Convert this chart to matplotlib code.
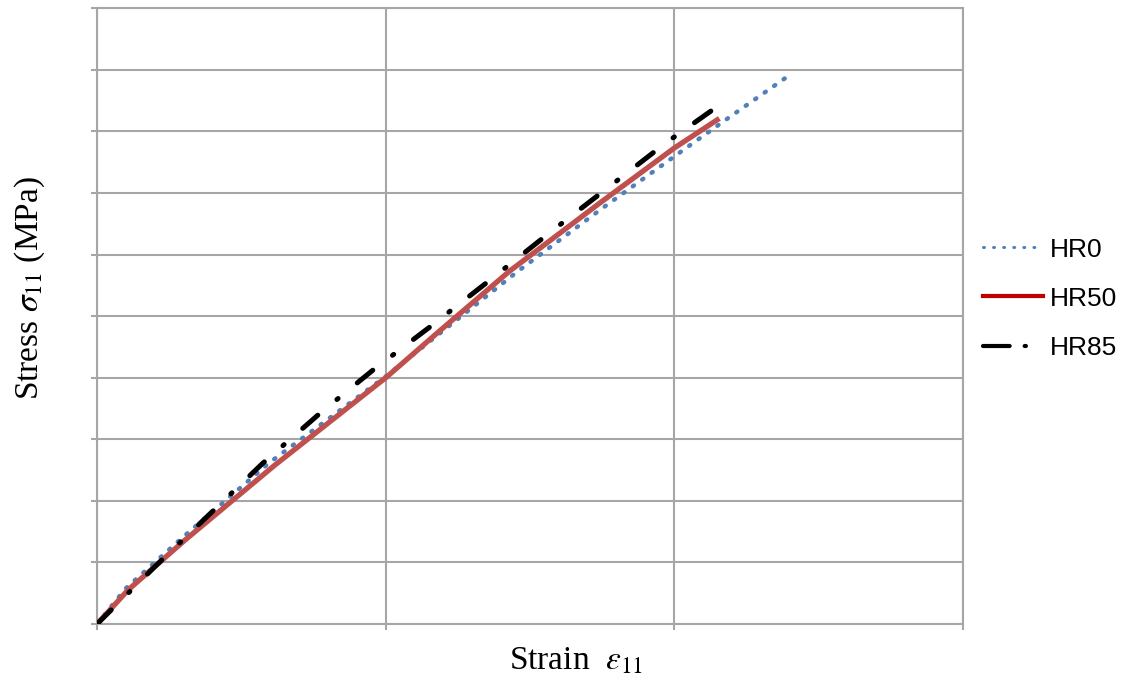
import matplotlib
matplotlib.use("Agg")
import matplotlib.pyplot as plt
from matplotlib.lines import Line2D

# strain / stress in grid units (axes carry no numeric labels)
hr0_strain = [0, 0.10, 0.30, 0.60, 1.00, 1.45, 1.75, 2.017, 2.20, 2.398]
hr0_stress = [0, 0.58, 1.42, 2.63, 4.02, 5.70, 6.75, 7.65, 8.26, 8.91]

hr50_strain = [0, 0.107, 0.304, 0.616, 1.003, 1.187, 1.429, 1.74, 2.00, 2.156]
hr50_stress = [0, 0.55, 1.36, 2.58, 4.01, 4.76, 5.73, 6.83, 7.73, 8.21]

hr85_strain = [0, 0.20, 0.574, 0.772, 0.955, 1.152, 1.36, 1.567, 1.97, 2.166]
hr85_stress = [0, 0.93, 2.61, 3.42, 4.12, 4.82, 5.58, 6.35, 7.81, 8.46]

labels = ["HR0", "HR50", "HR85"]

plt.rcParams["mathtext.fontset"] = "stix"

fig = plt.figure(figsize=(11.32, 6.82), dpi=100)
ax = fig.add_axes([0.0857, 0.085, 0.765, 0.903])

grid_c = "#A6A6A6"
ax.plot(hr0_strain, hr0_stress, color="#4F81BD", lw=3.2,
        linestyle=(0, (0.3, 2.3)), dash_capstyle="round", zorder=3)
ax.plot(hr50_strain, hr50_stress, color="#C0504D", lw=3.8,
        solid_capstyle="butt", zorder=4)
ax.plot(hr85_strain, hr85_stress, color="black", lw=3.6,
        linestyle=(0, (4, 4.95, 0.3, 4.95)), dash_capstyle="round", zorder=5)

ax.set_xlim(0, 3)
ax.set_ylim(0, 10)
ax.set_xticks([0, 1, 2, 3])
ax.set_yticks(range(11))
ax.set_xticklabels([])
ax.set_yticklabels([])
ax.tick_params(length=4, width=1.5, color=grid_c)
ax.grid(True, color=grid_c, lw=1.5)
ax.set_axisbelow(True)
for s in ax.spines.values():
    s.set_color(grid_c)
    s.set_linewidth(1.5)

ax.set_xlabel(r"Strain  $\varepsilon_{11}$", family="Liberation Serif", fontsize=24)
ax.xaxis.set_label_coords(0.553, -0.036)
ax.set_ylabel(r"Stress $\sigma_{11}$ (MPa)", family="Liberation Serif", fontsize=24)
ax.yaxis.set_label_coords(-0.058, 0.545)

handles = [
    Line2D([], [], color="#4F81BD", lw=2.2, linestyle=(0, (0.3, 3.0)), dash_capstyle="round"),
    Line2D([], [], color="#C00000", lw=3.0),
    Line2D([], [], color="black", lw=3.0, linestyle=(0, (6.4, 3.6, 0.3, 10)), dash_capstyle="round"),
]
fig.legend(handles, labels, loc="center left", bbox_to_anchor=(0.847, 0.562),
           frameon=False, prop={"family": "Liberation Sans", "size": 19},
           handlelength=2.3, handletextpad=0.25, labelspacing=0.95)

fig.savefig("out.png", dpi=100)
